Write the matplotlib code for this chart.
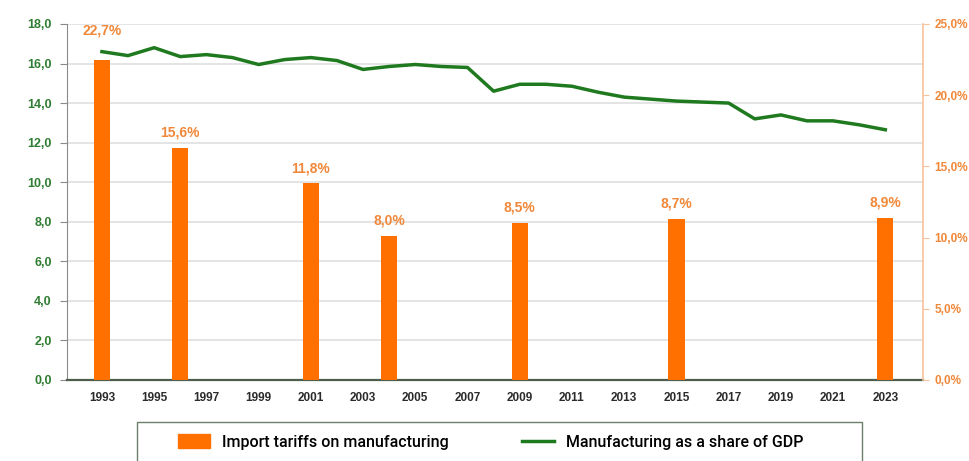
import numpy as np
import matplotlib.pyplot as plt
from matplotlib.patches import Rectangle

# manufacturing as a share of GDP (left axis, %)
years = list(range(1993, 2024))
mfg_share = [16.6, 16.4, 16.8, 16.35, 16.45, 16.3, 15.95, 16.2, 16.3, 16.15,
             15.7, 15.85, 15.95, 15.85, 15.8, 14.6, 14.95, 14.95, 14.85, 14.55,
             14.3, 14.2, 14.1, 14.05, 14.0, 13.2, 13.4, 13.1, 13.1, 12.9, 12.65]

# import tariffs on manufacturing (right axis, %)
tariff_years = [1993, 1996, 2001, 2004, 2009, 2015, 2023]
tariff_bars = [22.5, 16.3, 13.8, 10.1, 11.0, 11.3, 11.4]
tariff_labels = ['22,7%', '15,6%', '11,8%', '8,0%', '8,5%', '8,7%', '8,9%']

xtick_years = list(range(1993, 2024, 2))

GREEN = '#1f7a1f'
ORANGE = '#ff7000'
LABEL_ORANGE = '#f0883a'

plt.rcParams['font.family'] = ['Liberation Sans', 'DejaVu Sans']

fig = plt.figure(figsize=(9.7, 4.61), dpi=100)
ax = fig.add_axes([0.069, 0.176, 0.883, 0.772])
ax2 = ax.twinx()

# gridlines on left axis
ax.set_ylim(0, 18)
ax.set_yticks(np.arange(0, 18.1, 2))
ax.set_yticklabels([f'{v:.1f}'.replace('.', ',') for v in np.arange(0, 18.1, 2)])
ax.grid(axis='y', color='#e4e4e4', linewidth=1.4)
ax.set_axisbelow(True)

bars = ax2.bar(tariff_years, tariff_bars, width=0.62, color=ORANGE, zorder=2)
for i, (rect, lab) in enumerate(zip(bars, tariff_labels)):
    # first label sits higher so it clears the line
    dy = 16 if i == 0 else 6
    ax2.annotate(lab, (rect.get_x() + rect.get_width() / 2, rect.get_height()),
                 xytext=(0, dy), textcoords='offset points', ha='center', va='bottom',
                 color=LABEL_ORANGE, fontsize=10, fontweight='bold', zorder=4)

# line drawn on the twin so it sits above the bars, rescaled to left axis units
line, = ax2.plot(years, np.array(mfg_share) * 25 / 18, color=GREEN, linewidth=2.5, zorder=3)

ax2.set_ylim(0, 25)
ax2.set_yticks(np.arange(0, 25.1, 5))
ax2.set_yticklabels([f'{v:.1f}%'.replace('.', ',') for v in np.arange(0, 25.1, 5)])

ax.set_xlim(1991.66, 2024.46)
ax.set_xticks(xtick_years)
ax.set_xticklabels([str(y) for y in xtick_years])

for a in (ax, ax2):
    a.spines['top'].set_visible(False)
ax.spines['right'].set_visible(False)
ax.spines['left'].set_color('#8a8a8a')
ax.spines['bottom'].set_color('#4d5e4d')
ax.spines['bottom'].set_linewidth(1.6)
ax2.spines['left'].set_visible(False)
ax2.spines['bottom'].set_visible(False)
ax2.spines['right'].set_color('#f7c29a')
ax2.spines['right'].set_linewidth(1.2)

ax.tick_params(axis='y', colors='#8a8a8a', labelcolor='#2f7d32', length=5, pad=6,
               labelsize=9)
ax.tick_params(axis='x', length=0, pad=9, labelsize=8.5, labelcolor='#2b2b2b')
ax2.tick_params(axis='y', colors='#f7c29a', labelcolor=LABEL_ORANGE, length=4, pad=4,
                labelsize=8.5)
for t in ax.get_yticklabels() + ax.get_xticklabels() + ax2.get_yticklabels():
    t.set_fontweight('bold')

# legend box runs off the bottom edge, as in the reference
fig.patches.append(Rectangle((137 / 970, -0.05), (862 - 137) / 970, 1 - 422 / 461 + 0.05,
                             transform=fig.transFigure, fill=False,
                             edgecolor='#6b7f6b', linewidth=1.0))
handles = [Rectangle((0, 0), 1, 1, color=ORANGE), line]
fig.legend(handles, ['Import tariffs on manufacturing', 'Manufacturing as a share of GDP'],
           loc='center left', bbox_to_anchor=(178 / 970, 1 - 442 / 461), ncol=2,
           frameon=False, borderpad=0, borderaxespad=0,
           columnspacing=4.6, handlelength=2.0, handleheight=1.0, handletextpad=0.75,
           prop={'family': 'Roboto', 'weight': 'medium', 'size': 11.5})

fig.savefig('out.png', dpi=100)
